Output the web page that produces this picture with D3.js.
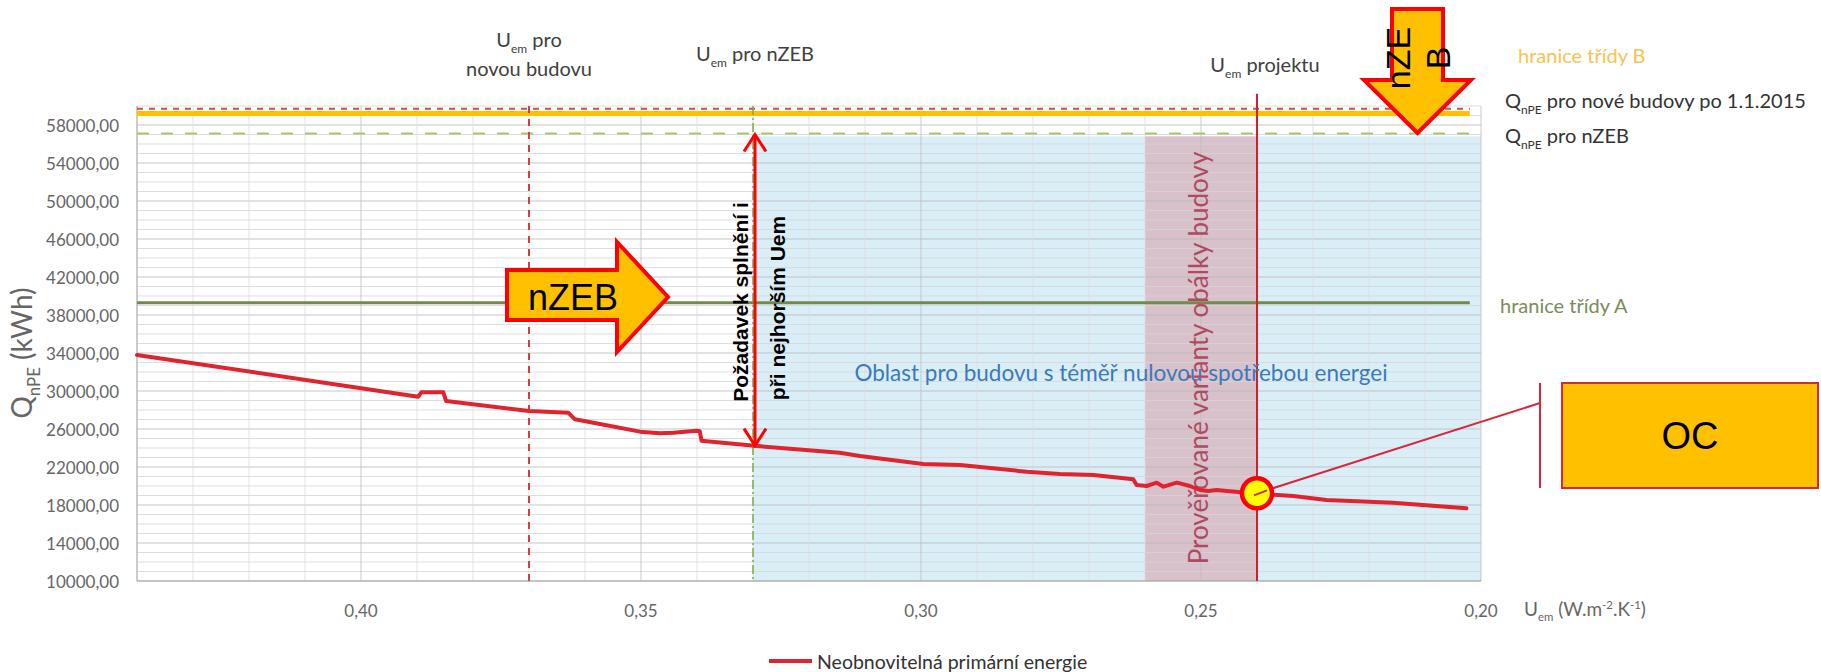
<!DOCTYPE html>
<html><head><meta charset="utf-8">
<script src="https://cdn.jsdelivr.net/npm/d3@7/dist/d3.min.js"></script>
<style>
html,body{margin:0;padding:0;background:#fff;}
svg{display:block;}
</style></head>
<body>
<svg id="chart" width="1821" height="672"></svg>
<script>
// ---- data ----
const uem = [0.4400,0.3898,0.3892,0.3853,0.3848,0.3700,0.3630,0.3618,0.3585,0.3502,0.3466,0.3442,0.3401,0.3395,0.3392,0.3293,0.3145,0.3109,0.2996,0.2930,0.2811,0.2752,0.2692,0.2621,0.2615,0.2597,0.2579,0.2567,0.2543,0.2520,0.2502,0.2487,0.2472,0.2454,0.2407,0.2335,0.2276,0.2157,0.2026];
const qnpe = [33800,29400,29860,29860,28950,27900,27720,27020,26660,25720,25550,25610,25820,25760,24770,24210,23500,23160,22320,22210,21500,21260,21160,20700,20100,20000,20350,19930,20350,20000,19580,19470,19580,19470,19230,18950,18530,18240,17650];
const xTickValues = [0.40,0.35,0.30,0.25,0.20];
const xTickLabels = ["0,40","0,35","0,30","0,25","0,20"];
const yTickValues = [10000,14000,18000,22000,26000,30000,34000,38000,42000,46000,50000,54000,58000];
const yTickLabels = ["10000,00","14000,00","18000,00","22000,00","26000,00","30000,00","34000,00","38000,00","42000,00","46000,00","50000,00","54000,00","58000,00"];
const uemNovaBudova = 0.37;
const uemNZEB = 0.33;
const uemProjekt = 0.24;
const qProjekt = 19230;
const variantRange = [0.26, 0.24];
const qNoveBudovy = 59700;
const qTridaB = 59200;
const qNZEB = 57100;
const qTridaA = 39300;
const qAtNZEB = 24150;
const legendLabel = "Neobnovitelná primární energie";

// ---- scales ----
const x = d3.scaleLinear().domain([0.44, 0.20]).range([137, 1481]);
const y = d3.scaleLinear().domain([10000, 60000]).range([581, 106]);
const svg = d3.select("#chart");
const chartFont = "Lato, 'Open Sans', sans-serif";
const shapeFont = "'Liberation Sans', Arial, sans-serif";

function rich(sel, parts, fs){
  let cur = 0;
  parts.forEach(p=>{
    const target = p.sub ? fs*0.28 : (p.sup ? -fs*0.38 : 0);
    const t = sel.append("tspan").text(p.t);
    if (target !== cur) t.attr("dy", target - cur);
    if (p.sub || p.sup) t.attr("font-size", fs*0.6);
    cur = target;
  });
  return sel;
}

// bands
const bandTop = qNZEB - 300;
svg.append("rect").attr("x", x(uemNZEB)).attr("y", y(bandTop))
  .attr("width", x(0.20)-x(uemNZEB)).attr("height", y(10000)-y(bandTop)).attr("fill","#daeef8");
svg.append("rect").attr("x", x(variantRange[0])).attr("y", y(bandTop))
  .attr("width", x(variantRange[1])-x(variantRange[0])).attr("height", y(10000)-y(bandTop)).attr("fill","#d8c1ca");

// grid
const minorY = d3.range(10000, 60001, 1000);
svg.append("g").selectAll("line").data(minorY).join("line")
  .attr("x1", x(0.44)).attr("x2", x(0.20)).attr("y1", d=>y(d)).attr("y2", d=>y(d))
  .attr("stroke", d=> ((d-10000)%4000===0) ? "#b8b8b8" : "#d6d6d6").attr("stroke-opacity",0.8).attr("stroke-width",1);
const minorX = d3.range(20, 45, 1).map(d=>d/100);
svg.append("g").selectAll("line").data(minorX).join("line")
  .attr("x1", d=>x(d)).attr("x2", d=>x(d)).attr("y1", y(10000)).attr("y2", y(60000))
  .attr("stroke", d=> (Math.round(d*100)%5===0) ? "#bdbdbd" : "#dcdcdc").attr("stroke-opacity",0.8).attr("stroke-width",1);

// axes lines
svg.append("line").attr("x1",x(0.44)).attr("x2",x(0.44)).attr("y1",y(10000)).attr("y2",y(60000)).attr("stroke","#a6a6a6");
svg.append("line").attr("x1",x(0.44)).attr("x2",x(0.20)).attr("y1",y(10000)).attr("y2",y(10000)).attr("stroke","#a6a6a6");

// horizontal reference lines
const hEnd = 0.202;
svg.append("line").attr("x1",x(0.44)).attr("x2",x(hEnd)).attr("y1",y(qNoveBudovy)).attr("y2",y(qNoveBudovy))
  .attr("stroke","#e04848").attr("stroke-width",2).attr("stroke-dasharray","6,6");
svg.append("line").attr("x1",x(0.44)).attr("x2",x(hEnd)).attr("y1",y(qTridaB)).attr("y2",y(qTridaB))
  .attr("stroke","#ffc000").attr("stroke-width",5);
svg.append("line").attr("x1",x(0.44)).attr("x2",x(hEnd)).attr("y1",y(qNZEB)).attr("y2",y(qNZEB))
  .attr("stroke","#a9c76c").attr("stroke-width",2).attr("stroke-dasharray","12,12");
svg.append("line").attr("x1",x(0.44)).attr("x2",x(hEnd)).attr("y1",y(qTridaA)).attr("y2",y(qTridaA))
  .attr("stroke","#728a4a").attr("stroke-width",3);

// vertical reference lines
svg.append("line").attr("x1",x(uemNovaBudova)).attr("x2",x(uemNovaBudova)).attr("y1",y(60000)).attr("y2",y(10000))
  .attr("stroke","#d04040").attr("stroke-width",2).attr("stroke-dasharray","7,6");
svg.append("line").attr("x1",x(uemNZEB)).attr("x2",x(uemNZEB)).attr("y1",y(60000)).attr("y2",y(10000))
  .attr("stroke","#7aad3f").attr("stroke-width",1.5).attr("stroke-dasharray","9,3,2,3");
svg.append("line").attr("x1",x(uemProjekt)).attr("x2",x(uemProjekt)).attr("y1",y(61300)).attr("y2",y(10000))
  .attr("stroke","#d0202e").attr("stroke-width",2);

// band texts
svg.append("text").attr("x", 1121).attr("y", y(31900)).attr("text-anchor","middle").attr("dominant-baseline","central")
  .attr("font-family", chartFont).attr("font-size", 22.5).attr("fill","#3a7abb")
  .text("Oblast pro budovu s téměř nulovou spotřebou energei");
svg.append("text").attr("transform", `translate(${x(0.2505)},358) rotate(-90)`).attr("text-anchor","middle").attr("dominant-baseline","central")
  .attr("font-family", chartFont).attr("font-size", 26).attr("fill","#b04a62")
  .text("Prověřované varianty obálky budovy");

// main line
const line = d3.line().x((d,i)=>x(uem[i])).y((d,i)=>y(qnpe[i]));
svg.append("path").datum(qnpe).attr("d", line).attr("fill","none")
  .attr("stroke","#e0242f").attr("stroke-width",4).attr("stroke-linejoin","round").attr("stroke-linecap","round");

// tick labels
svg.append("g").selectAll("text").data(yTickValues).join("text")
  .attr("x", 119).attr("y", d=>y(d)).attr("text-anchor","end").attr("dominant-baseline","central")
  .attr("font-family", chartFont).attr("font-size", 17).attr("fill","#666")
  .text((d,i)=>yTickLabels[i]);
svg.append("g").selectAll("text").data(xTickValues).join("text")
  .attr("x", d=>x(d)).attr("y", 610).attr("text-anchor","middle").attr("dominant-baseline","central")
  .attr("font-family", chartFont).attr("font-size", 17).attr("fill","#666")
  .text((d,i)=>xTickLabels[i]);

// axis titles
rich(svg.append("text").attr("x",1524).attr("y",616).attr("font-family",chartFont).attr("font-size",19).attr("fill","#666"),
  [{t:"U"},{t:"em",sub:true},{t:" (W.m"},{t:"-2",sup:true},{t:".K"},{t:"-1",sup:true},{t:")"}],19);
rich(svg.append("text").attr("transform","translate(32,353) rotate(-90)").attr("text-anchor","middle")
  .attr("font-family",chartFont).attr("font-size",28).attr("fill","#666"),
  [{t:"Q"},{t:"nPE",sub:true},{t:" (kWh)"}],28);

// top labels
const topCol = "#404040";
rich(svg.append("text").attr("x",x(uemNovaBudova)).attr("y",47).attr("text-anchor","middle").attr("font-family",chartFont).attr("font-size",20).attr("fill",topCol),
  [{t:"U"},{t:"em",sub:true},{t:" pro"}],20);
svg.append("text").attr("x",x(uemNovaBudova)).attr("y",76).attr("text-anchor","middle").attr("font-family",chartFont).attr("font-size",20).attr("fill",topCol).text("novou budovu");
rich(svg.append("text").attr("x",x(uemNZEB)+2).attr("y",61).attr("text-anchor","middle").attr("font-family",chartFont).attr("font-size",20).attr("fill",topCol),
  [{t:"U"},{t:"em",sub:true},{t:" pro nZEB"}],20);
rich(svg.append("text").attr("x",x(uemProjekt)+8).attr("y",72).attr("text-anchor","middle").attr("font-family",chartFont).attr("font-size",20).attr("fill",topCol),
  [{t:"U"},{t:"em",sub:true},{t:" projektu"}],20);

// right labels
svg.append("text").attr("x",1518).attr("y",63).attr("font-family",chartFont).attr("font-size",20).attr("fill","#f7c352").text("hranice třídy B");
rich(svg.append("text").attr("x",1505).attr("y",108).attr("font-family",chartFont).attr("font-size",20).attr("fill","#333"),
  [{t:"Q"},{t:"nPE",sub:true},{t:" pro nové budovy po 1.1.2015"}],20);
rich(svg.append("text").attr("x",1505).attr("y",143).attr("font-family",chartFont).attr("font-size",20).attr("fill","#333"),
  [{t:"Q"},{t:"nPE",sub:true},{t:" pro nZEB"}],20);
svg.append("text").attr("x",1500).attr("y",313).attr("font-family",chartFont).attr("font-size",20).attr("fill","#7a8c5a").text("hranice třídy A");

// legend
svg.append("line").attr("x1",769).attr("x2",812).attr("y1",661).attr("y2",661).attr("stroke","#e0242f").attr("stroke-width",4);
svg.append("text").attr("x",817).attr("y",661).attr("dominant-baseline","central").attr("font-family",chartFont).attr("font-size",19.5).attr("fill","#333").text(legendLabel);

// double arrow
const ax = x(uemNZEB)+2, ay1 = y(qNZEB), ay2 = y(qAtNZEB);
svg.append("line").attr("x1",ax).attr("x2",ax).attr("y1",ay1+1).attr("y2",ay2-1).attr("stroke","#ff0000").attr("stroke-width",3);
svg.append("path").attr("d",`M${ax-11},${ay1+18}L${ax},${ay1+1}L${ax+11},${ay1+18}`).attr("fill","none").attr("stroke","#ff0000").attr("stroke-width",3);
svg.append("path").attr("d",`M${ax-11},${ay2-18}L${ax},${ay2-1}L${ax+11},${ay2-18}`).attr("fill","none").attr("stroke","#ff0000").attr("stroke-width",3);
svg.append("text").attr("transform",`translate(${ax-15},302) rotate(-90)`).attr("text-anchor","middle").attr("dominant-baseline","central")
  .attr("font-family",shapeFont).attr("font-weight","bold").attr("font-size",21).attr("fill","#000").text("Požadavek  splnění i");
svg.append("text").attr("transform",`translate(${ax+22},308) rotate(-90)`).attr("text-anchor","middle").attr("dominant-baseline","central")
  .attr("font-family",shapeFont).attr("font-weight","bold").attr("font-size",21).attr("fill","#000").text("při nejhorším Uem");

// right arrow nZEB
svg.append("path").attr("d","M507,270L617,270L617,242L668,297L617,352L617,320L507,320Z")
  .attr("fill","#ffc000").attr("stroke","#ff0000").attr("stroke-width",4).attr("stroke-linejoin","miter");
svg.append("text").attr("x",573).attr("y",297).attr("text-anchor","middle").attr("dominant-baseline","central")
  .attr("font-family",shapeFont).attr("font-size",36).attr("fill","#000").text("nZEB");

// down arrow nZEB
svg.append("path").attr("d","M1392,9L1443,9L1443,80L1471,80L1417.5,133L1364,80L1392,80Z")
  .attr("fill","#ffc000").attr("stroke","#ff0000").attr("stroke-width",4);
svg.append("text").attr("transform","translate(1398,58) rotate(-90)").attr("text-anchor","middle").attr("dominant-baseline","central")
  .attr("font-family",shapeFont).attr("font-size",34).attr("fill","#000").text("nZE");
svg.append("text").attr("transform","translate(1438,58) rotate(-90)").attr("text-anchor","middle").attr("dominant-baseline","central")
  .attr("font-family",shapeFont).attr("font-size",34).attr("fill","#000").text("B");

// callout
const cx = x(uemProjekt), cy = y(qProjekt);
svg.append("line").attr("x1",cx).attr("y1",cy).attr("x2",1540).attr("y2",403).attr("stroke","#d9263a").attr("stroke-width",2);
svg.append("line").attr("x1",1540).attr("y1",383).attr("x2",1540).attr("y2",488).attr("stroke","#d9263a").attr("stroke-width",2);
svg.append("circle").attr("cx",cx).attr("cy",cy).attr("r",15).attr("fill","#ffff00").attr("stroke","#ff0000").attr("stroke-width",4.5);
svg.append("line").attr("x1",cx-3).attr("y1",cy+2).attr("x2",cx+10).attr("y2",cy-3).attr("stroke","#d9263a").attr("stroke-width",2);
svg.append("rect").attr("x",1562).attr("y",383).attr("width",256).attr("height",105).attr("fill","#ffc000").attr("stroke","#d9263a").attr("stroke-width",2);
svg.append("text").attr("x",1690).attr("y",436).attr("text-anchor","middle").attr("dominant-baseline","central")
  .attr("font-family",shapeFont).attr("font-size",38).attr("fill","#000").text("OC");
</script>
</body></html>
